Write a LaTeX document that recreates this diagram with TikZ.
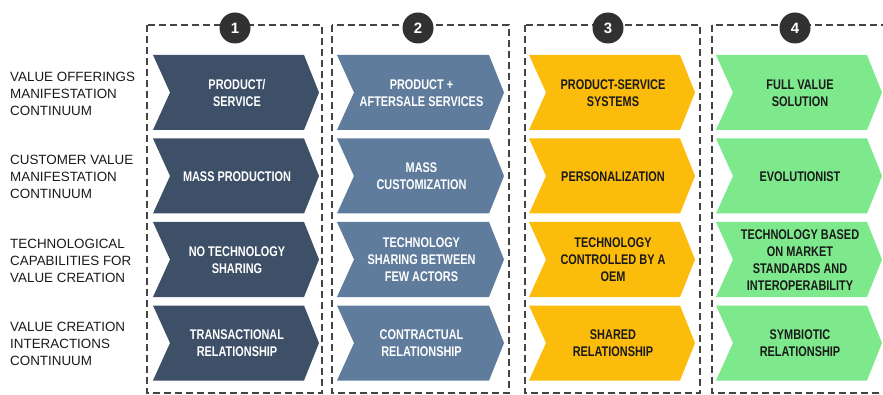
\documentclass[tikz,border=0pt]{standalone}
\usepackage{fontspec}
\setmainfont{Liberation Sans}
\newfontfamily\chevfont[FakeStretch=0.78]{Liberation Sans}
\definecolor{cA}{HTML}{3E5068}
\definecolor{cB}{HTML}{5F7C9C}
\definecolor{cC}{HTML}{FCBC0C}
\definecolor{cD}{HTML}{7DE98C}
\definecolor{dash}{HTML}{444444}
\definecolor{dk}{HTML}{1A1A1A}
\tikzset{
  chevtext/.style={align=center,font=\chevfont\bfseries\fontsize{14}{17}\selectfont,inner sep=0pt},
  rowlabel/.style={align=left,anchor=west,font=\fontsize{13.4}{17}\selectfont,text=dk,inner sep=0pt},
  dashbox/.style={draw=dash,line width=1.3pt,dash pattern=on 7pt off 4pt},
  numcircle/.style={circle,fill=dk!90,minimum size=31pt,inner sep=0pt,text=white,font=\bfseries\fontsize{15}{17}\selectfont}
}
\newcommand\chev[7]{%
  \fill[#5] (#2,#4) -- (#3-15,#4) -- (#3,#4+37.5) -- (#3-15,#4+75) -- (#2,#4+75) -- (#2+17,#4+37.5) -- cycle;
  \node[chevtext,text=#6] (#1) at ({(#2+#3)/2+1},{#4+38}) {#7};
}
\begin{document}
\begin{tikzpicture}[x=1pt,y=-1pt]
\useasboundingbox (0,0) rectangle (883,395);
\clip (0,0) rectangle (883,395);
% dashed column boxes
\draw[dashbox] (147,25) rectangle (322,393);
\draw[dashbox] (332,25) rectangle (509,393);
\draw[dashbox] (525,25) rectangle (700,393);
\draw[dashbox] (712,25) rectangle (905,393);
\node[numcircle] (c1) at (235,28) {1};
\node[numcircle] (c2) at (418,28) {2};
\node[numcircle] (c3) at (608,28) {3};
\node[numcircle] (c4) at (795,28) {4};
% row labels
\node[rowlabel] (l1) at (10,94) {VALUE OFFERINGS\\MANIFESTATION\\CONTINUUM};
\node[rowlabel] (l2) at (10,177) {CUSTOMER VALUE\\MANIFESTATION\\CONTINUUM};
\node[rowlabel] (l3) at (10,261) {TECHNOLOGICAL\\CAPABILITIES FOR\\VALUE CREATION};
\node[rowlabel] (l4) at (10,344) {VALUE CREATION\\INTERACTIONS\\CONTINUUM};
% column 1
\chev{a1}{153}{319}{55}{cA}{white}{PRODUCT/\\SERVICE}
\chev{a2}{153}{319}{138.5}{cA}{white}{MASS PRODUCTION}
\chev{a3}{153}{319}{222}{cA}{white}{NO TECHNOLOGY\\SHARING}
\chev{a4}{153}{319}{305.5}{cA}{white}{TRANSACTIONAL\\RELATIONSHIP}
% column 2
\chev{b1}{337}{504}{55}{cB}{white}{PRODUCT +\\AFTERSALE SERVICES}
\chev{b2}{337}{504}{138.5}{cB}{white}{MASS\\CUSTOMIZATION}
\chev{b3}{337}{504}{222}{cB}{white}{TECHNOLOGY\\SHARING BETWEEN\\FEW ACTORS}
\chev{b4}{337}{504}{305.5}{cB}{white}{CONTRACTUAL\\RELATIONSHIP}
% column 3
\chev{d1}{529}{695}{55}{cC}{dk}{PRODUCT-SERVICE\\SYSTEMS}
\chev{d2}{529}{695}{138.5}{cC}{dk}{PERSONALIZATION}
\chev{d3}{529}{695}{222}{cC}{dk}{TECHNOLOGY\\CONTROLLED BY A\\OEM}
\chev{d4}{529}{695}{305.5}{cC}{dk}{SHARED\\RELATIONSHIP}
% column 4
\chev{e1}{716}{882}{55}{cD}{dk}{FULL VALUE\\SOLUTION}
\chev{e2}{716}{882}{138.5}{cD}{dk}{EVOLUTIONIST}
\chev{e3}{716}{882}{222}{cD}{dk}{TECHNOLOGY BASED\\ON MARKET\\STANDARDS AND\\INTEROPERABILITY}
\chev{e4}{716}{882}{305.5}{cD}{dk}{SYMBIOTIC\\RELATIONSHIP}
\end{tikzpicture}
\end{document}
